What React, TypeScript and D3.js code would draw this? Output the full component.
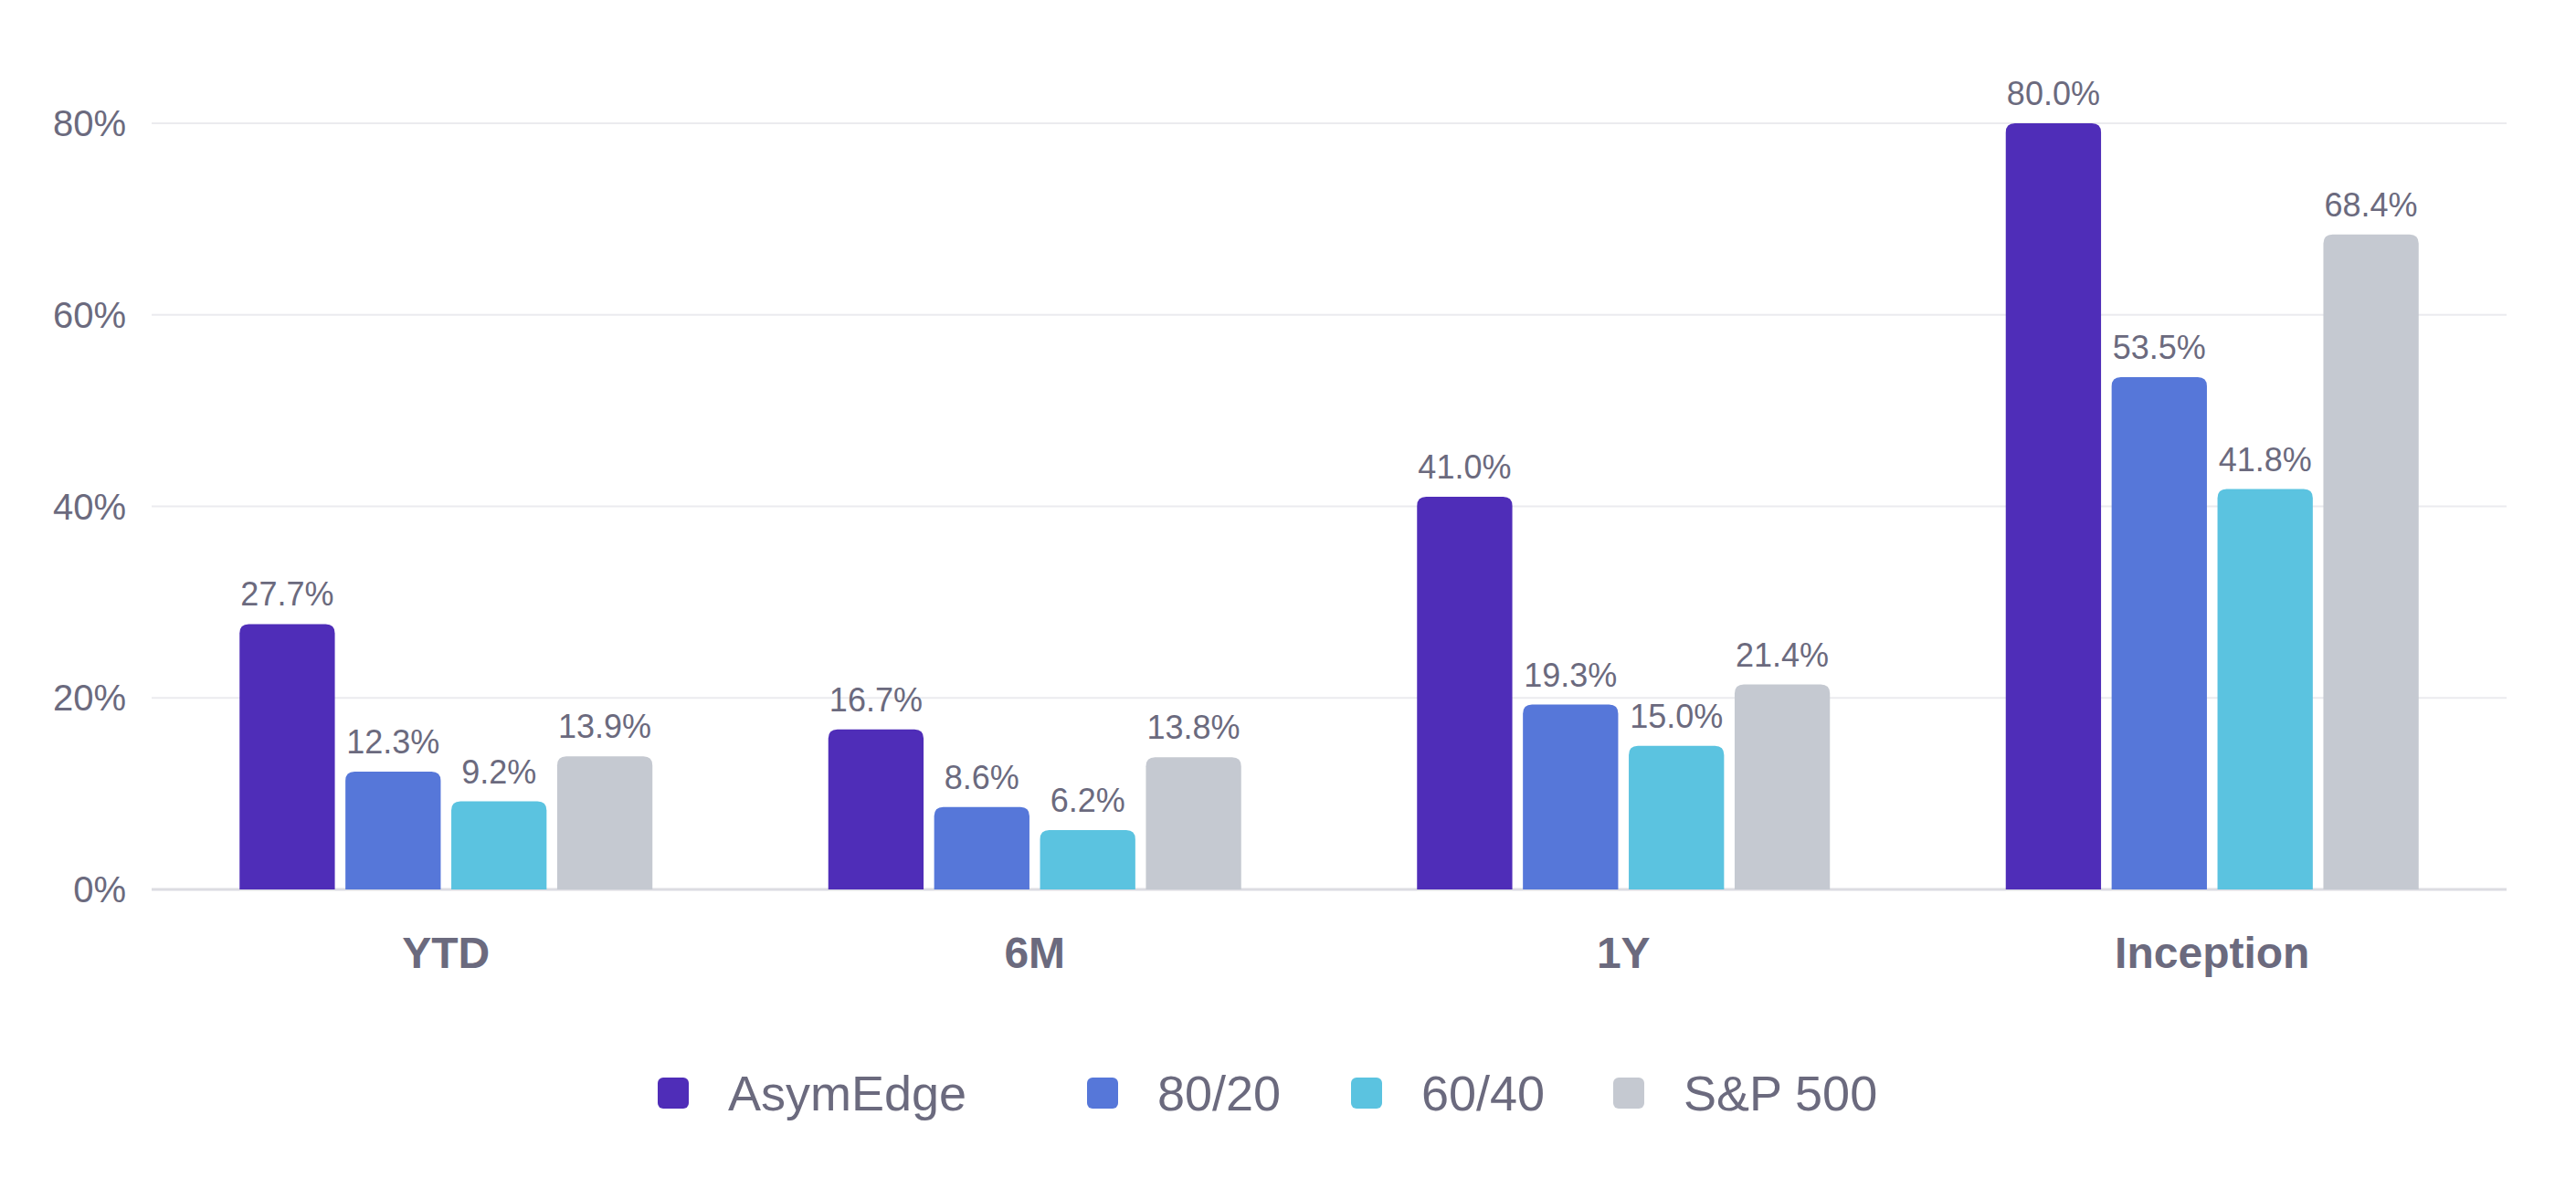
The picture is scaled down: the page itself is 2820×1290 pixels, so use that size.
import { useEffect, useRef } from 'react';
import * as d3 from 'd3';

const categories = ['YTD', '6M', '1Y', 'Inception'];
const seriesNames = ['AsymEdge', '80/20', '60/40', 'S&P 500'];
const asymEdge = [27.7, 16.7, 41.0, 80.0];
const eightyTwenty = [12.3, 8.6, 19.3, 53.5];
const sixtyForty = [9.2, 6.2, 15.0, 41.8];
const sp500 = [13.9, 13.8, 21.4, 68.4];
const yTicks = [0, 20, 40, 60, 80];
const colors = ['#4f2db8', '#5677d9', '#5bc3e0', '#c5c9d1'];

const W = 2820;
const H = 1290;
const textColor = '#6b6a7e';
const font = 'Arial, "Liberation Sans", sans-serif';

export default function App() {
  const svgRef = useRef<SVGSVGElement>(null);

  useEffect(() => {
    if (!svgRef.current) return;
    const svg = d3.select(svgRef.current);
    svg.selectAll('*').remove();

    const margin = { top: 135, right: 76, bottom: 316, left: 166 };
    const innerWidth = W - margin.left - margin.right;
    const innerHeight = H - margin.top - margin.bottom;
    const series = [asymEdge, eightyTwenty, sixtyForty, sp500];

    const g = svg.append('g').attr('transform', `translate(${margin.left},${margin.top})`);

    const x0 = d3.scaleBand().domain(categories).range([0, innerWidth]).padding(0);
    const x1 = d3.scaleBand().domain(seriesNames).range([0, 452]).paddingInner(0.1);
    const y = d3.scaleLinear().domain([0, 80]).range([innerHeight, 0]);

    // grid
    g.selectAll('.grid')
      .data(yTicks)
      .enter().append('line')
      .attr('x1', 0)
      .attr('x2', innerWidth)
      .attr('y1', d => y(d))
      .attr('y2', d => y(d))
      .attr('stroke', d => (d === 0 ? '#dcdce2' : '#ebebef'))
      .attr('stroke-width', d => (d === 0 ? 3 : 2));

    g.selectAll('.ytick')
      .data(yTicks)
      .enter().append('text')
      .attr('x', -28)
      .attr('y', d => y(d))
      .attr('dy', '0.35em')
      .attr('text-anchor', 'end')
      .style('font-family', font)
      .style('font-size', '40px')
      .style('fill', textColor)
      .text(d => `${d}%`);

    const groupOffset = (x0.bandwidth() - 452) / 2;

    categories.forEach((cat, ci) => {
      const cg = g.append('g').attr('transform', `translate(${(x0(cat) || 0) + groupOffset},0)`);
      seriesNames.forEach((s, si) => {
        const v = series[si][ci];
        const bx = x1(s) || 0;
        const bw = x1.bandwidth();
        const top = y(v);
        const r = 10;
        cg.append('path')
          .attr('d', `M${bx},${innerHeight}V${top + r}Q${bx},${top} ${bx + r},${top}H${bx + bw - r}Q${bx + bw},${top} ${bx + bw},${top + r}V${innerHeight}Z`)
          .attr('fill', colors[si]);
        cg.append('text')
          .attr('x', bx + bw / 2)
          .attr('y', top - 20)
          .attr('text-anchor', 'middle')
          .style('font-family', font)
          .style('font-size', '36px')
          .style('fill', textColor)
          .text(`${v.toFixed(1)}%`);
      });
      g.append('text')
        .attr('x', (x0(cat) || 0) + x0.bandwidth() / 2)
        .attr('y', innerHeight + 86)
        .attr('text-anchor', 'middle')
        .style('font-family', font)
        .style('font-size', '48px')
        .style('font-weight', 'bold')
        .style('fill', textColor)
        .text(cat);
    });

    // legend
    const legendX = [720, 1190, 1479, 1766];
    const legend = svg.append('g').attr('transform', 'translate(0,1197)');
    seriesNames.forEach((s, i) => {
      legend.append('rect')
        .attr('x', legendX[i])
        .attr('y', -17)
        .attr('width', 34)
        .attr('height', 34)
        .attr('rx', 6)
        .attr('fill', colors[i]);
      legend.append('text')
        .attr('x', legendX[i] + 77)
        .attr('y', 0)
        .attr('dy', '0.35em')
        .style('font-family', font)
        .style('font-size', '54px')
        .style('fill', textColor)
        .text(s);
    });
  }, []);

  return (
    <svg ref={svgRef} width={W} height={H} style={{ display: 'block', position: 'absolute', left: 0, top: 0, background: '#fff' }} />
  );
}
